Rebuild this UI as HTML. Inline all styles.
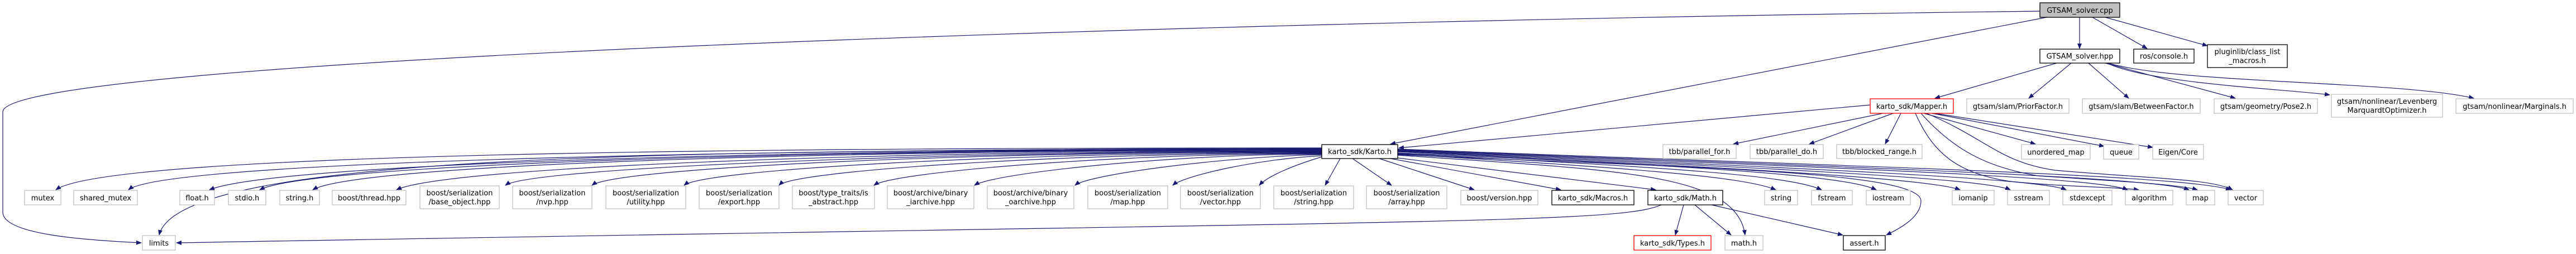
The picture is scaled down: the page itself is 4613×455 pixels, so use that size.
<!DOCTYPE html>
<html><head><meta charset="utf-8"><style>
html,body{margin:0;padding:0;background:#fff;}
svg{display:block;}
text{font-family:"DejaVu Sans","Liberation Sans",sans-serif;font-size:13px;fill:#000;}
.g{fill:#fff;stroke:#bfbfbf;stroke-width:1.3;}
.b{fill:#fff;stroke:#000;stroke-width:1.3;}
.r{fill:#fff;stroke:#ff0000;stroke-width:1.3;}
.e{fill:none;stroke:#191970;stroke-width:1.2;marker-end:url(#a);}
</style></head><body>
<svg width="4613" height="455" viewBox="0 0 4613 455" xmlns="http://www.w3.org/2000/svg">
<defs><marker id="a" markerWidth="10" markerHeight="8" refX="9" refY="4" orient="auto" markerUnits="userSpaceOnUse"><path d="M0,0 L10,4 L0,8 z" fill="#191970"/></marker></defs>
<g>
<path class="e" d="M3653,20 C2000,40 10,110 5,200 L5,380 C5,420 150,430 253,435"/>
<path class="e" d="M3665,31 L2490,258"/>
<path class="e" d="M3724,31 L3724,87"/>
<path class="e" d="M3747,31 L3845,87"/>
<path class="e" d="M3770,31 L3953,82"/>
<path class="e" d="M3683,113 L3465,176"/>
<path class="e" d="M3709,113 L3633,176"/>
<path class="e" d="M3740,113 L3812,176"/>
<path class="e" d="M3770,113 L4003,176"/>
<path class="e" d="M3773,113 C3850,150 4100,160 4172,170"/>
<path class="e" d="M3775,113 C3900,150 4300,145 4430,176"/>
<path class="e" d="M3349,188 L2505,265"/>
<path class="e" d="M3372,203 L3104,258"/>
<path class="e" d="M3390,203 L3240,258"/>
<path class="e" d="M3404,203 L3376,258"/>
<path class="e" d="M3445,203 L3645,258"/>
<path class="e" d="M3460,203 L3768,262"/>
<path class="e" d="M3465,203 L3855,264"/>
<path class="e" d="M3430,203 C3460,270 3500,310 3600,325 C3700,335 3790,335 3830,340"/>
<path class="e" d="M3440,203 C3500,270 3560,300 3650,315 C3800,325 3900,330 3935,340"/>
<path class="e" d="M3450,203 C3560,250 3580,290 3680,305 C3850,320 3960,320 3998,340"/>
<path class="e" d="M2367,265 C1500,265 200,270 100,340"/>
<path class="e" d="M2367,266 C1500,266 300,285 230,340"/>
<path class="e" d="M2367,268 C1200,268 320,275 285,421"/>
<path class="e" d="M2367,267 C1500,267 500,290 375,340"/>
<path class="e" d="M2367,268 C1500,268 560,292 465,340"/>
<path class="e" d="M2367,269 C1500,269 640,294 560,340"/>
<path class="e" d="M2367,270 C1600,270 800,298 710,340"/>
<path class="e" d="M2367,271 C1700,271 950,300 905,332"/>
<path class="e" d="M2367,272 C1700,272 1100,302 1060,332"/>
<path class="e" d="M2367,273 C1800,273 1260,304 1225,332"/>
<path class="e" d="M2367,274 C1900,274 1420,306 1395,332"/>
<path class="e" d="M2367,275 C2000,275 1600,308 1565,332"/>
<path class="e" d="M2367,276 C2100,276 1780,310 1745,332"/>
<path class="e" d="M2367,277 C2200,280 1950,312 1925,332"/>
<path class="e" d="M2367,279 C2250,285 2120,315 2100,332"/>
<path class="e" d="M2367,281 C2320,295 2270,315 2255,332"/>
<path class="e" d="M2400,284 L2373,332"/>
<path class="e" d="M2422,284 L2492,332"/>
<path class="e" d="M2470,284 L2640,340"/>
<path class="e" d="M2490,284 L2795,340"/>
<path class="e" d="M2503,283 L2965,340"/>
<path class="e" d="M2503,276 C2900,300 3120,315 3180,340"/>
<path class="e" d="M2503,275 C2950,298 3200,312 3262,340"/>
<path class="e" d="M2503,274 C3000,296 3300,312 3360,340"/>
<path class="e" d="M2503,272 C3050,298 3450,318 3510,340"/>
<path class="e" d="M2503,271 C3100,298 3550,318 3600,340"/>
<path class="e" d="M2503,270 C3150,298 3650,318 3700,340"/>
<path class="e" d="M2503,269 C3200,298 3750,315 3810,340"/>
<path class="e" d="M2503,268 C3250,298 3850,315 3920,340"/>
<path class="e" d="M2503,267 C3300,298 3900,312 3995,340"/>
<path class="e" d="M2503,277 C3000,300 3440,305 3440,360 C3440,390 3400,410 3378,421"/>
<path class="e" d="M2503,278 C2900,305 3110,310 3125,421"/>
<path class="e" d="M2975,367 C2900,400 2600,395 316,435"/>
<path class="e" d="M3015,367 L3000,421"/>
<path class="e" d="M3035,367 L3100,421"/>
<path class="e" d="M3065,367 L3300,421"/>
</g>
<rect x="3653" y="5" width="143" height="26" fill="#bfbfbf" stroke="#000" stroke-width="1.3"/><text x="3724.5" y="23" text-anchor="middle">GTSAM_solver.cpp</text>
<rect class="b" x="3653" y="88" width="143" height="25"/><text x="3724.5" y="105" text-anchor="middle">GTSAM_solver.hpp</text>
<rect class="b" x="3821" y="88" width="108" height="25"/><text x="3875" y="105" text-anchor="middle">ros/console.h</text>
<rect class="b" x="3953" y="80" width="143" height="41"/><text x="4024.5" y="97" text-anchor="middle">pluginlib/class_list</text><text x="4024.5" y="113" text-anchor="middle">_macros.h</text>
<rect class="r" x="3349" y="177" width="149" height="26"/><text x="3423.5" y="195" text-anchor="middle">karto_sdk/Mapper.h</text>
<rect class="g" x="3522" y="177" width="183" height="26"/><text x="3613.5" y="195" text-anchor="middle">gtsam/slam/PriorFactor.h</text>
<rect class="g" x="3729" y="177" width="211" height="26"/><text x="3834.5" y="195" text-anchor="middle">gtsam/slam/BetweenFactor.h</text>
<rect class="g" x="3965" y="177" width="185" height="26"/><text x="4057.5" y="195" text-anchor="middle">gtsam/geometry/Pose2.h</text>
<rect class="g" x="4175" y="169" width="199" height="41"/><text x="4274.5" y="186" text-anchor="middle">gtsam/nonlinear/Levenberg</text><text x="4274.5" y="202" text-anchor="middle">MarquardtOptimizer.h</text>
<rect class="g" x="4398" y="177" width="210" height="26"/><text x="4503" y="195" text-anchor="middle">gtsam/nonlinear/Marginals.h</text>
<rect class="b" x="2367" y="259" width="136" height="25"/><text x="2435" y="276" text-anchor="middle">karto_sdk/Karto.h</text>
<rect class="g" x="2978" y="259" width="131" height="25"/><text x="3043.5" y="276" text-anchor="middle">tbb/parallel_for.h</text>
<rect class="g" x="3134" y="259" width="131" height="25"/><text x="3199.5" y="276" text-anchor="middle">tbb/parallel_do.h</text>
<rect class="g" x="3289" y="259" width="153" height="25"/><text x="3365.5" y="276" text-anchor="middle">tbb/blocked_range.h</text>
<rect class="g" x="3620" y="259" width="123" height="26"/><text x="3681.5" y="277" text-anchor="middle">unordered_map</text>
<rect class="g" x="3767" y="259" width="63" height="26"/><text x="3798.5" y="277" text-anchor="middle">queue</text>
<rect class="g" x="3855" y="259" width="91" height="26"/><text x="3900.5" y="277" text-anchor="middle">Eigen/Core</text>
<rect class="g" x="44" y="341" width="65" height="26"/><text x="76.5" y="359" text-anchor="middle">mutex</text>
<rect class="g" x="132" y="341" width="114" height="26"/><text x="189" y="359" text-anchor="middle">shared_mutex</text>
<rect class="g" x="322" y="341" width="62" height="26"/><text x="353" y="359" text-anchor="middle">float.h</text>
<rect class="g" x="409" y="341" width="67" height="26"/><text x="442.5" y="359" text-anchor="middle">stdio.h</text>
<rect class="g" x="501" y="341" width="71" height="26"/><text x="536.5" y="359" text-anchor="middle">string.h</text>
<rect class="g" x="595" y="341" width="132" height="26"/><text x="661" y="359" text-anchor="middle">boost/thread.hpp</text>
<rect class="g" x="2616" y="341" width="138" height="26"/><text x="2685" y="359" text-anchor="middle">boost/version.hpp</text>
<rect class="b" x="2779" y="341" width="147" height="26"/><text x="2852.5" y="359" text-anchor="middle">karto_sdk/Macros.h</text>
<rect class="b" x="2951" y="341" width="134" height="26"/><text x="3018" y="359" text-anchor="middle">karto_sdk/Math.h</text>
<rect class="g" x="3160" y="341" width="59" height="26"/><text x="3189.5" y="359" text-anchor="middle">string</text>
<rect class="g" x="3244" y="341" width="73" height="26"/><text x="3280.5" y="359" text-anchor="middle">fstream</text>
<rect class="g" x="3342" y="341" width="79" height="26"/><text x="3381.5" y="359" text-anchor="middle">iostream</text>
<rect class="g" x="3496" y="341" width="75" height="26"/><text x="3533.5" y="359" text-anchor="middle">iomanip</text>
<rect class="g" x="3595" y="341" width="75" height="26"/><text x="3632.5" y="359" text-anchor="middle">sstream</text>
<rect class="g" x="3694" y="341" width="88" height="26"/><text x="3738" y="359" text-anchor="middle">stdexcept</text>
<rect class="g" x="3806" y="341" width="85" height="26"/><text x="3848.5" y="359" text-anchor="middle">algorithm</text>
<rect class="g" x="3915" y="341" width="51" height="26"/><text x="3940.5" y="359" text-anchor="middle">map</text>
<rect class="g" x="3990" y="341" width="63" height="26"/><text x="4021.5" y="359" text-anchor="middle">vector</text>
<rect class="g" x="752" y="333" width="142" height="41"/><text x="823" y="350" text-anchor="middle">boost/serialization</text><text x="823" y="366" text-anchor="middle">/base_object.hpp</text>
<rect class="g" x="918" y="333" width="142" height="41"/><text x="989" y="350" text-anchor="middle">boost/serialization</text><text x="989" y="366" text-anchor="middle">/nvp.hpp</text>
<rect class="g" x="1085" y="333" width="143" height="41"/><text x="1156.5" y="350" text-anchor="middle">boost/serialization</text><text x="1156.5" y="366" text-anchor="middle">/utility.hpp</text>
<rect class="g" x="1252" y="333" width="143" height="41"/><text x="1323.5" y="350" text-anchor="middle">boost/serialization</text><text x="1323.5" y="366" text-anchor="middle">/export.hpp</text>
<rect class="g" x="1419" y="333" width="147" height="41"/><text x="1492.5" y="350" text-anchor="middle">boost/type_traits/is</text><text x="1492.5" y="366" text-anchor="middle">_abstract.hpp</text>
<rect class="g" x="1589" y="333" width="155" height="41"/><text x="1666.5" y="350" text-anchor="middle">boost/archive/binary</text><text x="1666.5" y="366" text-anchor="middle">_iarchive.hpp</text>
<rect class="g" x="1768" y="333" width="155" height="41"/><text x="1845.5" y="350" text-anchor="middle">boost/archive/binary</text><text x="1845.5" y="366" text-anchor="middle">_oarchive.hpp</text>
<rect class="g" x="1948" y="333" width="143" height="41"/><text x="2019.5" y="350" text-anchor="middle">boost/serialization</text><text x="2019.5" y="366" text-anchor="middle">/map.hpp</text>
<rect class="g" x="2114" y="333" width="143" height="41"/><text x="2185.5" y="350" text-anchor="middle">boost/serialization</text><text x="2185.5" y="366" text-anchor="middle">/vector.hpp</text>
<rect class="g" x="2281" y="333" width="143" height="41"/><text x="2352.5" y="350" text-anchor="middle">boost/serialization</text><text x="2352.5" y="366" text-anchor="middle">/string.hpp</text>
<rect class="g" x="2447" y="333" width="144" height="41"/><text x="2519" y="350" text-anchor="middle">boost/serialization</text><text x="2519" y="366" text-anchor="middle">/array.hpp</text>
<rect class="g" x="255" y="422" width="59" height="26"/><text x="284.5" y="440" text-anchor="middle">limits</text>
<rect class="r" x="2926" y="422" width="138" height="26"/><text x="2995" y="440" text-anchor="middle">karto_sdk/Types.h</text>
<rect class="g" x="3089" y="422" width="68" height="26"/><text x="3123" y="440" text-anchor="middle">math.h</text>
<rect class="b" x="3301" y="422" width="75" height="26"/><text x="3338.5" y="440" text-anchor="middle">assert.h</text>
</svg>
</body></html>
